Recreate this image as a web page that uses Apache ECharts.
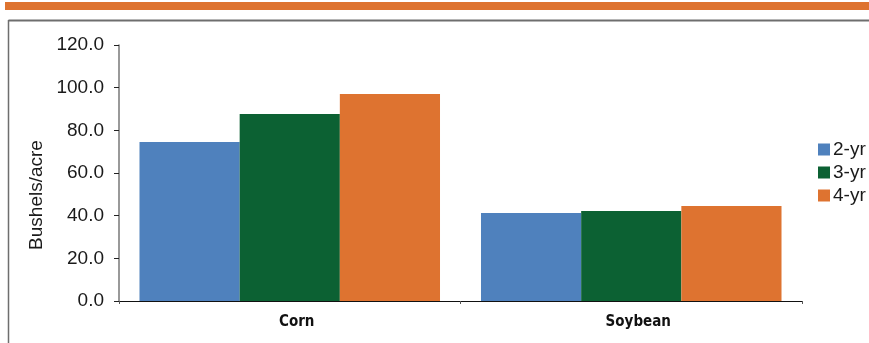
<!DOCTYPE html>
<html>
<head>
<meta charset="utf-8">
<script src="https://cdn.jsdelivr.net/npm/echarts@6/dist/echarts.min.js"></script>
<style>
  html, body { margin: 0; padding: 0; background: #fff; }
  #chart { width: 869px; height: 343px; }
</style>
</head>
<body>
<div id="chart"></div>
<script>
// Crop categories and yields (bushels/acre) by rotation length
const categories = ['Corn', 'Soybean'];
const seriesNames = ['2-yr', '3-yr', '4-yr'];
const yield2yr = [74.5, 41.3];
const yield3yr = [87.7, 42.2];
const yield4yr = [97.0, 44.5];
const yTicks = { min: 0, max: 120, interval: 20 };

const colors = ['#4F81BD', '#0C6133', '#DE7330'];
const font = '"Liberation Sans", Arial, Helvetica, sans-serif';

const chart = echarts.init(document.getElementById('chart'), null, { renderer: 'canvas' });

chart.setOption({
  animation: false,
  backgroundColor: '#ffffff',
  color: colors,
  graphic: [
    // orange band across the top
    { type: 'rect', shape: { x: 5, y: 2, width: 864, height: 8 }, style: { fill: '#DE7330' }, silent: true },
    // panel frame (top and left edges)
    { type: 'line', shape: { x1: 8.5, y1: 20.5, x2: 869, y2: 20.5 }, style: { stroke: '#6e6e6e', lineWidth: 2 }, silent: true },
    { type: 'line', shape: { x1: 8.5, y1: 20, x2: 8.5, y2: 343 }, style: { stroke: '#6e6e6e', lineWidth: 1.5 }, silent: true },
    // y-axis title
    {
      type: 'text', x: 37, y: 195, rotation: Math.PI / 2,
      style: { text: 'Bushels/acre', font: '19px ' + font, fill: '#1a1a1a', align: 'center', verticalAlign: 'middle' },
      silent: true
    }
  ],
  legend: {
    orient: 'vertical',
    left: 818,
    top: 140,
    padding: 0,
    itemWidth: 12,
    itemHeight: 12,
    itemGap: 4,
    icon: 'rect',
    textStyle: { fontFamily: font, fontSize: 19, color: '#1a1a1a', padding: [0, 0, 0, -2] },
    data: seriesNames
  },
  grid: { left: 119, right: 67, top: 45, bottom: 42, containLabel: false },
  xAxis: {
    type: 'category',
    data: categories,
    axisLine: { lineStyle: { color: '#111', width: 1 } },
    axisTick: { show: true, length: 3, lineStyle: { color: '#555' } },
    axisLabel: {
      fontFamily: '"DejaVu Sans Condensed", "Liberation Sans", Arial, sans-serif',
      fontWeight: 'bold', fontSize: 15, color: '#111', margin: 14,
      padding: [0, 0, 0, 14]
    }
  },
  yAxis: {
    type: 'value',
    min: yTicks.min, max: yTicks.max, interval: yTicks.interval,
    splitLine: { show: false },
    axisLine: { show: true, lineStyle: { color: '#777', width: 1.5 } },
    axisTick: { show: true, length: 5, lineStyle: { color: '#222' } },
    axisLabel: {
      fontFamily: font, fontSize: 19, color: '#1a1a1a', margin: 15,
      formatter: v => v.toFixed(1)
    }
  },
  series: [
    { name: seriesNames[0], type: 'bar', data: yield2yr, barGap: '0%', barCategoryGap: '12%' },
    { name: seriesNames[1], type: 'bar', data: yield3yr, barGap: '0%', barCategoryGap: '12%' },
    { name: seriesNames[2], type: 'bar', data: yield4yr, barGap: '0%', barCategoryGap: '12%' }
  ]
});
</script>
</body>
</html>
